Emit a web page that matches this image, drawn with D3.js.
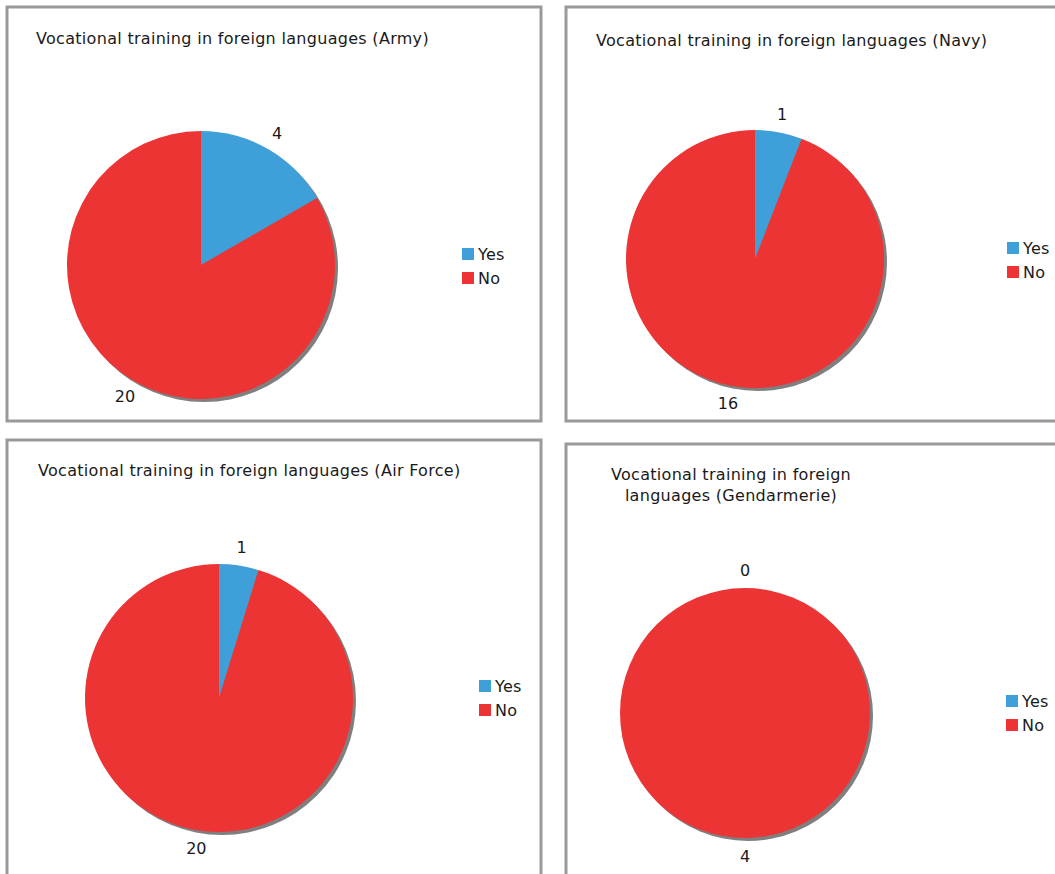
<!DOCTYPE html>
<html>
<head>
<meta charset="utf-8">
<script src="https://cdn.jsdelivr.net/npm/d3@7"></script>
<style>
  html, body { margin: 0; padding: 0; background: #fff; }
  svg { display: block; }
  text { font-family: "DejaVu Sans", Verdana, sans-serif; fill: #1a1a1a; }
</style>
</head>
<body>
<svg id="chart" width="1055" height="874"></svg>
<script>
// ---- data ----
const categories = ["Yes", "No"];
const services = ["Army", "Navy", "Air Force", "Gendarmerie"];
const yesValues = [4, 1, 1, 0];
const noValues = [20, 16, 20, 4];
const titles = [
  ["Vocational training in foreign languages (Army)"],
  ["Vocational training in foreign languages (Navy)"],
  ["Vocational training in foreign languages (Air Force)"],
  ["Vocational training in foreign", "languages (Gendarmerie)"]
];

// ---- layout (positions only) ----
const layout = [
  { box: [7, 7, 534, 414], cx: 201, cy: 265, r: 134, title: [36, 44, "start"], legend: [462, 254] },
  { box: [566, 7, 520, 414], cx: 755, cy: 259, r: 129, title: [596, 46, "start"], legend: [1007, 248] },
  { box: [7, 440, 534, 460], cx: 219, cy: 698, r: 134, title: [38, 476, "start"], legend: [479, 686] },
  { box: [566, 444, 520, 460], cx: 745, cy: 713, r: 125, title: [731, 480, "middle"], legend: [1006, 701] }
];

const colors = d3.scaleOrdinal().domain(categories).range(["#3f9fd9", "#ed3435"]);
const svg = d3.select("#chart");

const pie = d3.pie().sort(null).value(d => d.value);

services.forEach((s, i) => {
  const L = layout[i];
  const g = svg.append("g");
  // panel border
  g.append("rect")
    .attr("x", L.box[0]).attr("y", L.box[1])
    .attr("width", L.box[2]).attr("height", L.box[3])
    .attr("fill", "#fff").attr("stroke", "#9a9a9a").attr("stroke-width", 3);

  // title
  const t = g.append("text")
    .attr("x", L.title[0]).attr("y", L.title[1])
    .attr("text-anchor", L.title[2])
    .attr("font-size", 16)
    .attr("letter-spacing", 0.3);
  titles[i].forEach((line, k) => {
    t.append("tspan").attr("x", L.title[0]).attr("dy", k === 0 ? 0 : 21).text(line);
  });

  const data = categories.map((c, k) => ({ cat: c, value: k === 0 ? yesValues[i] : noValues[i] }));
  const arcs = pie(data);
  const arc = d3.arc().innerRadius(0).outerRadius(L.r);

  // shadow
  g.append("circle")
    .attr("cx", L.cx + 3).attr("cy", L.cy + 3).attr("r", L.r)
    .attr("fill", "#7f7f7f");

  const pg = g.append("g").attr("transform", `translate(${L.cx},${L.cy})`);
  pg.selectAll("path.slice").data(arcs.filter(a => a.value > 0)).join("path")
    .attr("class", "slice")
    .attr("d", arc)
    .attr("fill", d => colors(d.data.cat));

  pg.selectAll("text.lbl").data(arcs).join("text")
    .attr("class", "lbl")
    .attr("transform", d => {
      const a = (d.startAngle + d.endAngle) / 2;
      const R = L.r + 18;
      return `translate(${R * Math.sin(a)},${-R * Math.cos(a)})`;
    })
    .attr("text-anchor", "middle")
    .attr("dominant-baseline", "central")
    .attr("font-size", 16)
    .text(d => d.value);

  // legend
  const lg = g.append("g").attr("transform", `translate(${L.legend[0]},${L.legend[1]})`);
  categories.forEach((c, k) => {
    const row = lg.append("g").attr("transform", `translate(0,${k * 24})`);
    row.append("rect").attr("x", 0).attr("y", -6).attr("width", 12).attr("height", 12)
      .attr("fill", colors(c));
    row.append("text").attr("x", 16).attr("y", 0)
      .attr("dominant-baseline", "central")
      .attr("font-size", 16).attr("letter-spacing", 0.3).text(c);
  });
});
</script>
</body>
</html>
